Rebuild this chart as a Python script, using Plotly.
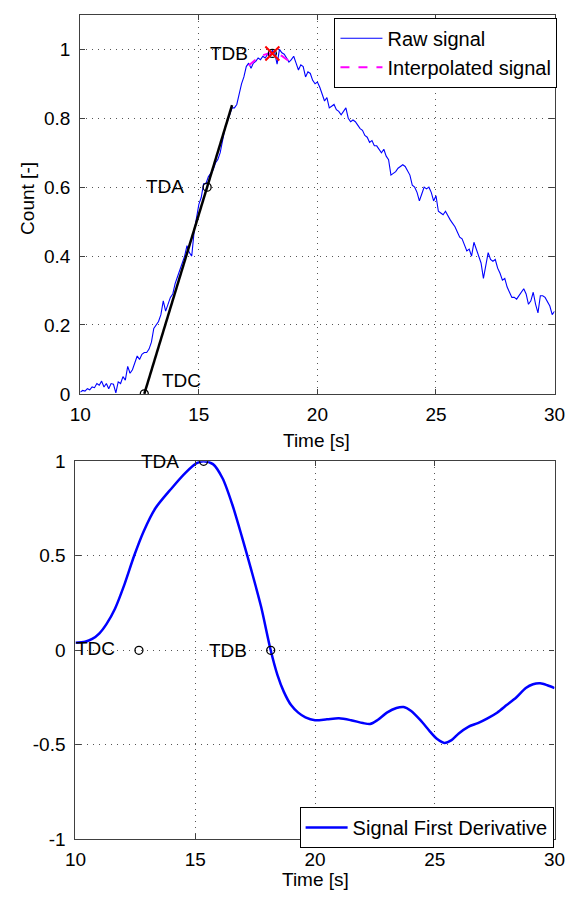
import numpy as np
import plotly.graph_objects as go

# ---------------- data ----------------
raw_time = np.round(np.arange(10.0, 30.05, 0.1), 2)
raw_count = [
    0.005, 0.010, 0.008, 0.015, 0.012, 0.020, 0.018, 0.030, 0.025, 0.037,
    0.020, 0.030, 0.015, 0.030, 0.028, 0.003, 0.035, 0.030, 0.050, 0.040,
    0.080, 0.060, 0.070, 0.090, 0.110, 0.100, 0.115, 0.120, 0.120, 0.130,
    0.150, 0.190, 0.200, 0.210, 0.230, 0.270, 0.240, 0.260, 0.280, 0.290,
    0.320, 0.340, 0.360, 0.380, 0.400, 0.430, 0.410, 0.400, 0.470, 0.510,
    0.550, 0.570, 0.610, 0.610, 0.630, 0.640, 0.650, 0.670, 0.680, 0.700,
    0.740, 0.770, 0.790, 0.810, 0.830, 0.830, 0.840, 0.870, 0.900, 0.920,
    0.950, 0.960, 0.945, 0.960, 0.965, 0.975, 0.970, 0.980, 0.975, 0.986,
    0.980, 0.997, 0.990, 0.957, 1.000, 0.990, 0.986, 0.975, 0.963, 0.970,
    0.980, 0.960, 0.940, 0.955, 0.950, 0.920, 0.935, 0.930, 0.910, 0.900,
    0.905, 0.890, 0.870, 0.850, 0.860, 0.830, 0.835, 0.840, 0.825, 0.820,
    0.810, 0.820, 0.830, 0.800, 0.790, 0.795, 0.790, 0.780, 0.770, 0.765,
    0.750, 0.745, 0.730, 0.735, 0.720, 0.720, 0.710, 0.700, 0.710, 0.690,
    0.680, 0.635, 0.640, 0.645, 0.655, 0.660, 0.665, 0.660, 0.645, 0.635,
    0.606, 0.600, 0.585, 0.560, 0.580, 0.600, 0.595, 0.600, 0.585, 0.560,
    0.575, 0.530, 0.525, 0.520, 0.530, 0.515, 0.505, 0.495, 0.485, 0.470,
    0.455, 0.450, 0.430, 0.415, 0.420, 0.400, 0.440, 0.420, 0.400, 0.380,
    0.335, 0.370, 0.410, 0.390, 0.385, 0.390, 0.365, 0.350, 0.330, 0.335,
    0.310, 0.295, 0.280, 0.280, 0.275, 0.285, 0.295, 0.305, 0.290, 0.260,
    0.270, 0.295, 0.260, 0.235, 0.285, 0.285, 0.280, 0.265, 0.255, 0.230,
    0.240,
]

interp_time = [17.1, 17.3, 17.5, 17.7, 17.9, 18.1, 18.3, 18.5, 18.7, 18.85]
interp_count = [0.953, 0.966, 0.976, 0.983, 0.987, 0.988, 0.986, 0.981, 0.972, 0.963]

tangent_time = [12.7, 16.4]
tangent_count = [0.0, 0.838]

td_names = ["TDC", "TDA", "TDB"]
td_time = [12.7, 15.35, 18.1]
td_count = [0.0, 0.6, 0.988]

deriv_time = [10.0, 10.4, 10.7, 11.0, 11.3, 11.65, 12.05, 12.45, 12.85, 13.33,
              14.0, 14.6, 15.06, 15.35, 15.74, 16.14, 16.55, 16.95, 17.35,
              17.75, 18.15, 18.43, 18.7, 19.0, 19.3, 19.6, 20.0, 20.5, 21.0,
              21.5, 22.0, 22.3, 22.6, 23.0, 23.4, 23.7, 24.0, 24.4, 24.8, 25.1,
              25.4, 25.7, 26.0, 26.4, 26.8, 27.2, 27.6, 28.0, 28.4, 28.8, 29.1,
              29.4, 29.7, 30.0]
deriv_value = [0.04, 0.045, 0.06, 0.09, 0.14, 0.22, 0.35, 0.50, 0.63, 0.75,
               0.855, 0.94, 0.99, 1.0, 0.985, 0.91, 0.77, 0.60, 0.42,
               0.23, 0.0, -0.13, -0.22, -0.29, -0.33, -0.355, -0.37, -0.365,
               -0.36, -0.37, -0.385, -0.39, -0.37, -0.33, -0.305, -0.30, -0.32,
               -0.37, -0.43, -0.47, -0.49, -0.475, -0.44, -0.405, -0.385, -0.36,
               -0.33, -0.29, -0.25, -0.20, -0.18, -0.175, -0.185, -0.20]

deriv_td_time = [12.65, 15.35, 18.15]
deriv_td_value = [0.0, 1.0, 0.0]

top_yticks = [0, 0.2, 0.4, 0.6, 0.8, 1]
top_yticktext = ["0", "0.2", "0.4", "0.6", "0.8", "1"]
bot_yticks = [-1, -0.5, 0, 0.5, 1]
bot_yticktext = ["-1", "-0.5", "0", "0.5", "1"]
xticks = [10, 15, 20, 25, 30]

# ---------------- figure ----------------
W, H = 580, 905
FONT = "Liberation Sans, Arial, sans-serif"
FS = 19

fig = go.Figure()

fig.add_trace(go.Scatter(x=raw_time, y=raw_count, mode="lines", name="Raw signal",
                         line=dict(color="#0000ff", width=1.1), xaxis="x", yaxis="y",
                         legend="legend"))
fig.add_trace(go.Scatter(x=interp_time, y=interp_count, mode="lines",
                         name="Interpolated signal",
                         line=dict(color="#ff00ff", width=2, dash="dash"),
                         xaxis="x", yaxis="y", legend="legend"))
fig.add_trace(go.Scatter(x=tangent_time, y=tangent_count, mode="lines",
                         line=dict(color="black", width=2.5), showlegend=False,
                         xaxis="x", yaxis="y"))
fig.add_trace(go.Scatter(x=td_time, y=td_count, mode="markers",
                         marker=dict(symbol="circle-open", size=8, color="black",
                                     line=dict(width=1.3)),
                         showlegend=False, xaxis="x", yaxis="y"))
fig.add_trace(go.Scatter(x=[td_time[2]], y=[td_count[2]], mode="markers",
                         marker=dict(symbol="x-thin-open", size=14, color="red",
                                     line=dict(width=2, color="red")),
                         showlegend=False, xaxis="x", yaxis="y"))

fig.add_trace(go.Scatter(x=deriv_time, y=deriv_value, mode="lines",
                         name="Signal First Derivative", line_shape="spline",
                         line=dict(color="#0000ff", width=2.5, smoothing=0.8),
                         xaxis="x2", yaxis="y2", legend="legend2"))
fig.add_trace(go.Scatter(x=deriv_td_time, y=deriv_td_value, mode="markers",
                         marker=dict(symbol="circle-open", size=8, color="black",
                                     line=dict(width=1.3)),
                         showlegend=False, xaxis="x2", yaxis="y2"))

axis_common = dict(
    showline=True, linecolor="#404040", linewidth=1.2, mirror="ticks",
    ticks="inside", ticklen=5, tickcolor="#404040", tickwidth=1.2,
    showgrid=True, gridcolor="#555555", griddash="1px,5px", gridwidth=1,
    zeroline=False, tickfont=dict(family=FONT, size=FS, color="black"),
)

fig.update_layout(
    width=W, height=H,
    margin=dict(l=0, r=0, t=0, b=0, pad=0),
    paper_bgcolor="white", plot_bgcolor="white",
    font=dict(family=FONT, size=FS, color="black"),
    xaxis=dict(domain=[72 / W, 565 / W], range=[10, 30], tickvals=xticks,
               anchor="y", ticklabelstandoff=3, **axis_common),
    yaxis=dict(domain=[1 - 393 / H, 1 - 5 / H], range=[0, 1.1],
               tickvals=top_yticks, ticktext=top_yticktext, anchor="x",
               ticklabelstandoff=5, **axis_common),
    xaxis2=dict(domain=[67 / W, 565 / W], range=[10, 30], tickvals=xticks,
                anchor="y2", ticklabelstandoff=3, **axis_common),
    yaxis2=dict(domain=[1 - 849 / H, 1 - 462 / H], range=[-1, 1],
                tickvals=bot_yticks, ticktext=bot_yticktext, anchor="x2",
                ticklabelstandoff=5, **axis_common),
    legend=dict(x=568 / W, y=1 - 8 / H, xanchor="right", yanchor="top",
                bgcolor="white", bordercolor="black", borderwidth=1,
                font=dict(family=FONT, size=FS + 1, color="black"),
                itemwidth=42, tracegroupgap=0),
    legend2=dict(x=564 / W, y=1 - 858 / H, xanchor="right", yanchor="bottom",
                 bgcolor="white", bordercolor="black", borderwidth=1,
                 font=dict(family=FONT, size=FS + 1, color="black"),
                 itemwidth=42),
    showlegend=True,
)

ann = []
lab_font = dict(family=FONT, size=FS, color="black")
# top labels
ann.append(dict(x=13.35, y=0.04, xref="x", yref="y", text=td_names[0],
                showarrow=False, xanchor="left", yanchor="middle", font=lab_font))
ann.append(dict(x=14.46, y=0.603, xref="x", yref="y", text=td_names[1],
                showarrow=False, xanchor="right", yanchor="middle", font=lab_font))
ann.append(dict(x=17.14, y=0.989, xref="x", yref="y", text=td_names[2],
                showarrow=False, xanchor="right", yanchor="middle", font=lab_font))
# bottom labels
ann.append(dict(x=11.73, y=0.01, xref="x2", yref="y2", text=td_names[0],
                showarrow=False, xanchor="right", yanchor="middle", font=lab_font))
ann.append(dict(x=14.42, y=1.0, xref="x2", yref="y2", text=td_names[1],
                showarrow=False, xanchor="right", yanchor="middle", font=lab_font))
ann.append(dict(x=17.23, y=0.0, xref="x2", yref="y2", text=td_names[2],
                showarrow=False, xanchor="right", yanchor="middle", font=lab_font))
# axis titles
ann.append(dict(x=318 / W, y=1 - 441 / H, xref="paper", yref="paper",
                text="Time [s]", showarrow=False, xanchor="center",
                yanchor="middle", font=lab_font))
ann.append(dict(x=316 / W, y=1 - 890 / H, xref="paper", yref="paper",
                text="Time [s]", showarrow=False, xanchor="center",
                yanchor="middle", font=lab_font))
ann.append(dict(x=17 / W, y=1 - 193 / H, xref="paper", yref="paper",
                text="Count [-]", showarrow=False, xanchor="center",
                yanchor="middle", textangle=-90, font=lab_font))
fig.update_layout(annotations=ann)

fig.write_html("out.html")
